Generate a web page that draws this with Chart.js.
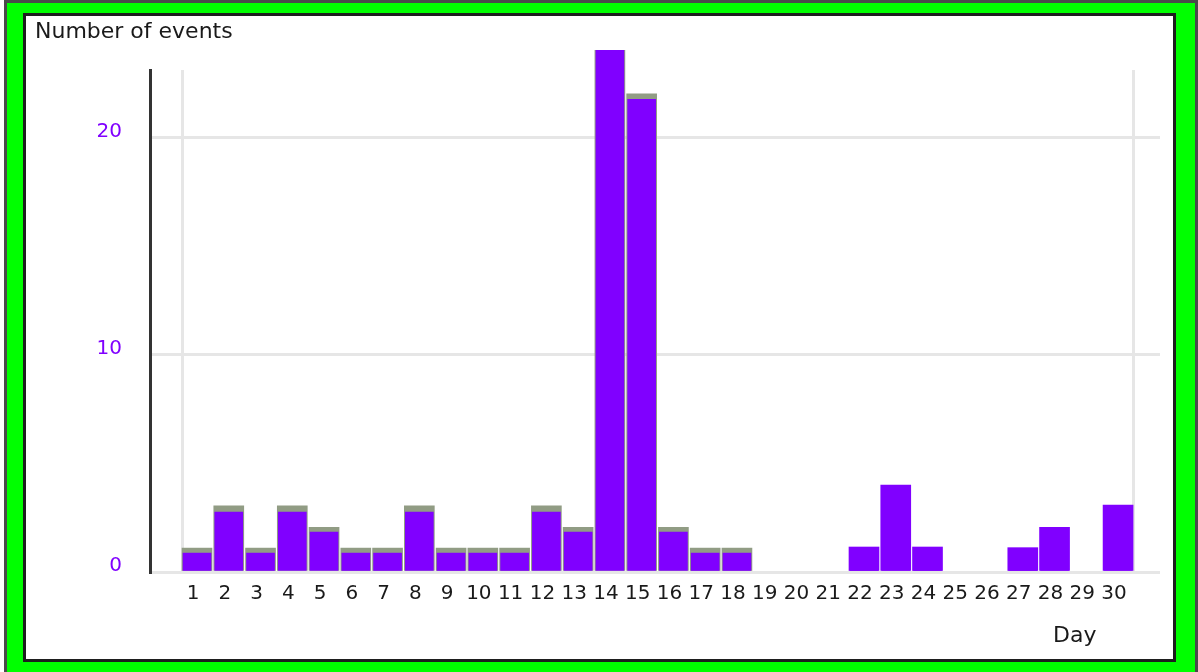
<!DOCTYPE html>
<html lang="en">
<head>
  <meta charset="UTF-8">
  <title>Number of events</title>
  <script src="https://cdn.jsdelivr.net/npm/chart.js"></script>
  <style>
    body { margin: 0; background: #fff; }
    #frame { position: absolute; left: 4px; top: 0; width: 1188px; height: 700px;
             border: 3px solid #4a4a4a; border-bottom: none; background: #00ff00; }
    #box { position: absolute; left: 23px; top: 13px; width: 1147px; height: 643px;
           border: 3px solid #1e1e1e; background: #fff; }
    canvas { display: block; }
  </style>
</head>
<body>
<div id="frame"></div>
<div id="box"><canvas id="chart" width="1147" height="643"></canvas></div>

<script>
    const days = [1, 2, 3, 4, 5, 6, 7, 8, 9, 10, 11, 12, 13, 14, 15,
                  16, 17, 18, 19, 20, 21, 22, 23, 24, 25, 26, 27, 28, 29, 30];
    // back bars (top of the 3d block)
    const events = [1.1, 3.05, 1.1, 3.05, 2.05, 1.1, 1.1, 3.05, 1.1, 1.1, 1.1, 3.05, 2.05, 24, 22,
                    2.05, 1.1, 1.1, 0, 0, 0, 1.15, 4, 1.15, 0, 0, 1.12, 2.05, 0, 3.08];
    // front face of the bars
    const front = [0.87, 2.76, 0.87, 2.76, 1.84, 0.87, 0.87, 2.76, 0.87, 0.87, 0.87, 2.76, 1.84, 24, 21.75,
                   1.84, 0.87, 0.87, 0, 0, 0, 0.87, 3.75, 0.87, 0, 0, 0.87, 1.8, 0, 2.76];
    const yTicks = [0, 10, 20];
    const edgeLines = [0.53, 30.47];

    const purple = '#8000ff';
    const shadow = '#919c84';
    const gridColor = '#e6e6e6';

    // empty days get no bar at all
    const points = values => days.map((d, i) => ({ x: d, y: values[i] === 0 ? null : values[i] }));

    const axisTitles = {
        id: 'axisTitles',
        afterDraw(chart) {
            const ctx = chart.ctx;
            ctx.save();
            ctx.font = '22px "DejaVu Sans"';
            ctx.fillStyle = '#1a1a1a';
            ctx.textBaseline = 'alphabetic';
            ctx.fillText('Number of events', 9, 22);
            ctx.fillText('Day', 1027, 626);
            ctx.restore();
        }
    };

    new Chart(document.getElementById('chart'), {
        type: 'bar',
        data: {
            datasets: [
                {
                    label: 'front',
                    data: points(front),
                    backgroundColor: purple,
                    barThickness: 28,
                    order: 0,
                    clip: false
                },
                {
                    label: 'events',
                    data: points(events),
                    backgroundColor: ctx => ctx.dataIndex < 18 ? shadow : purple,
                    barThickness: 30,
                    order: 1,
                    clip: false
                }
            ]
        },
        options: {
            responsive: false,
            animation: false,
            grouped: false,
            layout: { padding: { left: 0, top: 54, right: 13, bottom: 0 } },
            plugins: {
                legend: { display: false },
                tooltip: { enabled: false }
            },
            scales: {
                x: {
                    type: 'linear',
                    offset: false,
                    min: -0.48,
                    max: 31.32,
                    afterBuildTicks: s => {
                        s.ticks = [edgeLines[0], ...days, edgeLines[1]].map(v => ({ value: v }));
                    },
                    afterFit: s => { s.height = 87; },
                    grid: {
                        offset: false,
                        color: ctx => ctx.tick && edgeLines.includes(ctx.tick.value) ? gridColor : 'rgba(0,0,0,0)',
                        lineWidth: 3,
                        drawTicks: false
                    },
                    border: { display: false },
                    ticks: {
                        color: '#1a1a1a',
                        font: { family: 'DejaVu Sans', size: 20 },
                        padding: 10,
                        labelOffset: -4,
                        maxRotation: 0,
                        autoSkip: false,
                        callback: v => days.includes(v) ? String(v) : ''
                    }
                },
                y: {
                    min: 0,
                    max: 23.1,
                    afterBuildTicks: s => { s.ticks = yTicks.map(v => ({ value: v })); },
                    afterFit: s => { s.width = 124; },
                    grid: { color: gridColor, lineWidth: 3, drawTicks: false },
                    border: { color: '#333', width: 3 },
                    ticks: {
                        color: purple,
                        font: { family: 'DejaVu Sans', size: 20 },
                        padding: 28,
                        labelOffset: -6
                    }
                }
            }
        },
        plugins: [axisTitles]
    });
</script>
</body>
</html>
